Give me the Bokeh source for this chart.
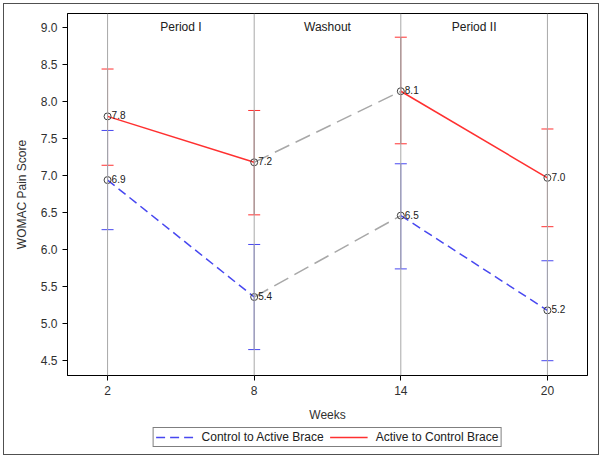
from bokeh.plotting import figure
from bokeh.layouts import column
from bokeh.models import (ColumnDataSource, Span, Label, Legend, LegendItem, Whisker, TeeHead,
                          FixedTicker, NumeralTickFormatter, Range1d)
from bokeh.core.properties import value
from bokeh.embed import file_html
from bokeh.resources import INLINE

weeks = [2, 8, 14, 20]
control_mean = [6.94, 5.36, 6.46, 5.18]
control_upper = [7.61, 6.07, 7.16, 5.85]
control_lower = [6.27, 4.65, 5.74, 4.50]
active_mean = [7.80, 7.18, 8.14, 6.97]
active_upper = [8.44, 7.88, 8.87, 7.63]
active_lower = [7.14, 6.47, 7.43, 6.31]
control_labels = ["6.9", "5.4", "6.5", "5.2"]
active_labels = ["7.8", "7.2", "8.1", "7.0"]
periods = ["Period I", "Washout", "Period II"]
period_x = [5, 11, 17]
y_ticks = [4.5, 5.0, 5.5, 6.0, 6.5, 7.0, 7.5, 8.0, 8.5, 9.0]
series_names = ["Control to Active Brace", "Active to Control Brace"]

FONT = "Liberation Sans"
RED = "#FF3030"
BLUE = "#4848F0"
GRAY = "#A8A8A8"

W = 594
p = figure(width=W, height=420, output_backend="svg", toolbar_location=None,
           x_range=Range1d(0.36, 21.64), y_range=Range1d(4.30, 9.19),
           min_border_left=63, min_border_right=11, min_border_top=9, min_border_bottom=46)
p.grid.visible = False
p.outline_line_color = "black"
p.outline_line_width = 1

for w in weeks:
    p.add_layout(Span(location=w, dimension="height", line_color=GRAY, line_width=1))

# error bars
src_a = ColumnDataSource(dict(x=weeks, lo=active_lower, hi=active_upper))
src_c = ColumnDataSource(dict(x=weeks, lo=control_lower, hi=control_upper))
p.add_layout(Whisker(source=src_a, base="x", lower="lo", upper="hi", dimension="height",
                     line_color="#A04040", line_width=1,
                     upper_head=TeeHead(size=12, line_color=RED, line_width=1),
                     lower_head=TeeHead(size=12, line_color=RED, line_width=1)))
p.add_layout(Whisker(source=src_c, base="x", lower="lo", upper="hi", dimension="height",
                     line_color="#6060D8", line_width=1,
                     upper_head=TeeHead(size=12, line_color=BLUE, line_width=1),
                     lower_head=TeeHead(size=12, line_color=BLUE, line_width=1)))

# lines: treatment periods coloured, washout gray
p.line(weeks[0:2], control_mean[0:2], line_color=BLUE, line_width=1.5, line_dash="9 5")
p.line(weeks[2:4], control_mean[2:4], line_color=BLUE, line_width=1.5, line_dash="9 5")
p.line(weeks[0:2], active_mean[0:2], line_color=RED, line_width=1.5)
p.line(weeks[2:4], active_mean[2:4], line_color=RED, line_width=1.5)
p.line(weeks[1:3], control_mean[1:3], line_color=GRAY, line_width=1.5, line_dash="16 7")
p.line(weeks[1:3], active_mean[1:3], line_color=GRAY, line_width=1.5, line_dash="16 7")

p.scatter(x=weeks, y=control_mean, marker="circle", size=7, fill_color=None,
          line_color="#404040", line_width=1)
p.scatter(x=weeks, y=active_mean, marker="circle", size=7, fill_color=None,
          line_color="#404040", line_width=1)

p.text(x=weeks, y=control_mean, text=control_labels, x_offset=4, y_offset=3,
       text_baseline="bottom", text_font=value(FONT), text_font_size="10px", text_color="#202020")
p.text(x=weeks, y=active_mean, text=active_labels, x_offset=4, y_offset=3,
       text_baseline="bottom", text_font=value(FONT), text_font_size="10px", text_color="#202020")

for name, xp in zip(periods, period_x):
    p.add_layout(Label(x=xp, y=9.19, y_units="data", text=name, y_offset=-6,
                       text_align="center", text_baseline="top", text_font=FONT,
                       text_font_size="12px", text_color="#202020"))

# axes
p.yaxis.ticker = FixedTicker(ticks=y_ticks)
p.yaxis.formatter = NumeralTickFormatter(format="0.0")
p.xaxis.ticker = FixedTicker(ticks=weeks)
for ax in (p.xaxis, p.yaxis):
    ax.minor_tick_line_color = None
    ax.major_tick_in = 0
    ax.major_tick_out = 5
    ax.major_tick_line_color = "black"
    ax.axis_line_color = "black"
    ax.major_label_text_font = FONT
    ax.major_label_text_font_size = "12px"
    ax.major_label_text_color = "#303030"
    ax.axis_label_text_font = FONT
    ax.axis_label_text_font_size = "12px"
    ax.axis_label_text_font_style = "normal"
    ax.axis_label_text_color = "#303030"
p.yaxis.axis_label = "WOMAC Pain Score"
p.xaxis.axis_label = "Weeks"
p.xaxis.axis_label_standoff = 10
p.yaxis.axis_label_standoff = 9

# legend in a small strip below (its lines lie outside the strip's view; only their legend swatches show)
lg = figure(width=W, height=30, output_backend="svg", toolbar_location=None,
            x_range=Range1d(100, 101), y_range=Range1d(100, 101),
            min_border=0, outline_line_color=None)
lg.axis.visible = False
lg.grid.visible = False
r_c = lg.line(x=weeks, y=control_mean, line_color=BLUE, line_width=1.5, line_dash="9 5")
r_a = lg.line(x=weeks, y=active_mean, line_color=RED, line_width=1.5)
legend = Legend(items=[LegendItem(label=series_names[0], renderers=[r_c]),
                       LegendItem(label=series_names[1], renderers=[r_a])],
                orientation="horizontal", location="bottom_center",
                label_text_font=FONT, label_text_font_size="12px", label_text_color="#202020",
                border_line_color="black", border_line_width=1,
                glyph_width=38, glyph_height=12, label_height=12,
                padding=2, spacing=6, margin=7, label_standoff=8)
lg.add_layout(legend, "center")

layout = column(p, lg, spacing=0)
layout.styles = {"margin": "3px", "border": "1px solid #505050"}

open("out.html", "w").write(file_html(layout, INLINE))
